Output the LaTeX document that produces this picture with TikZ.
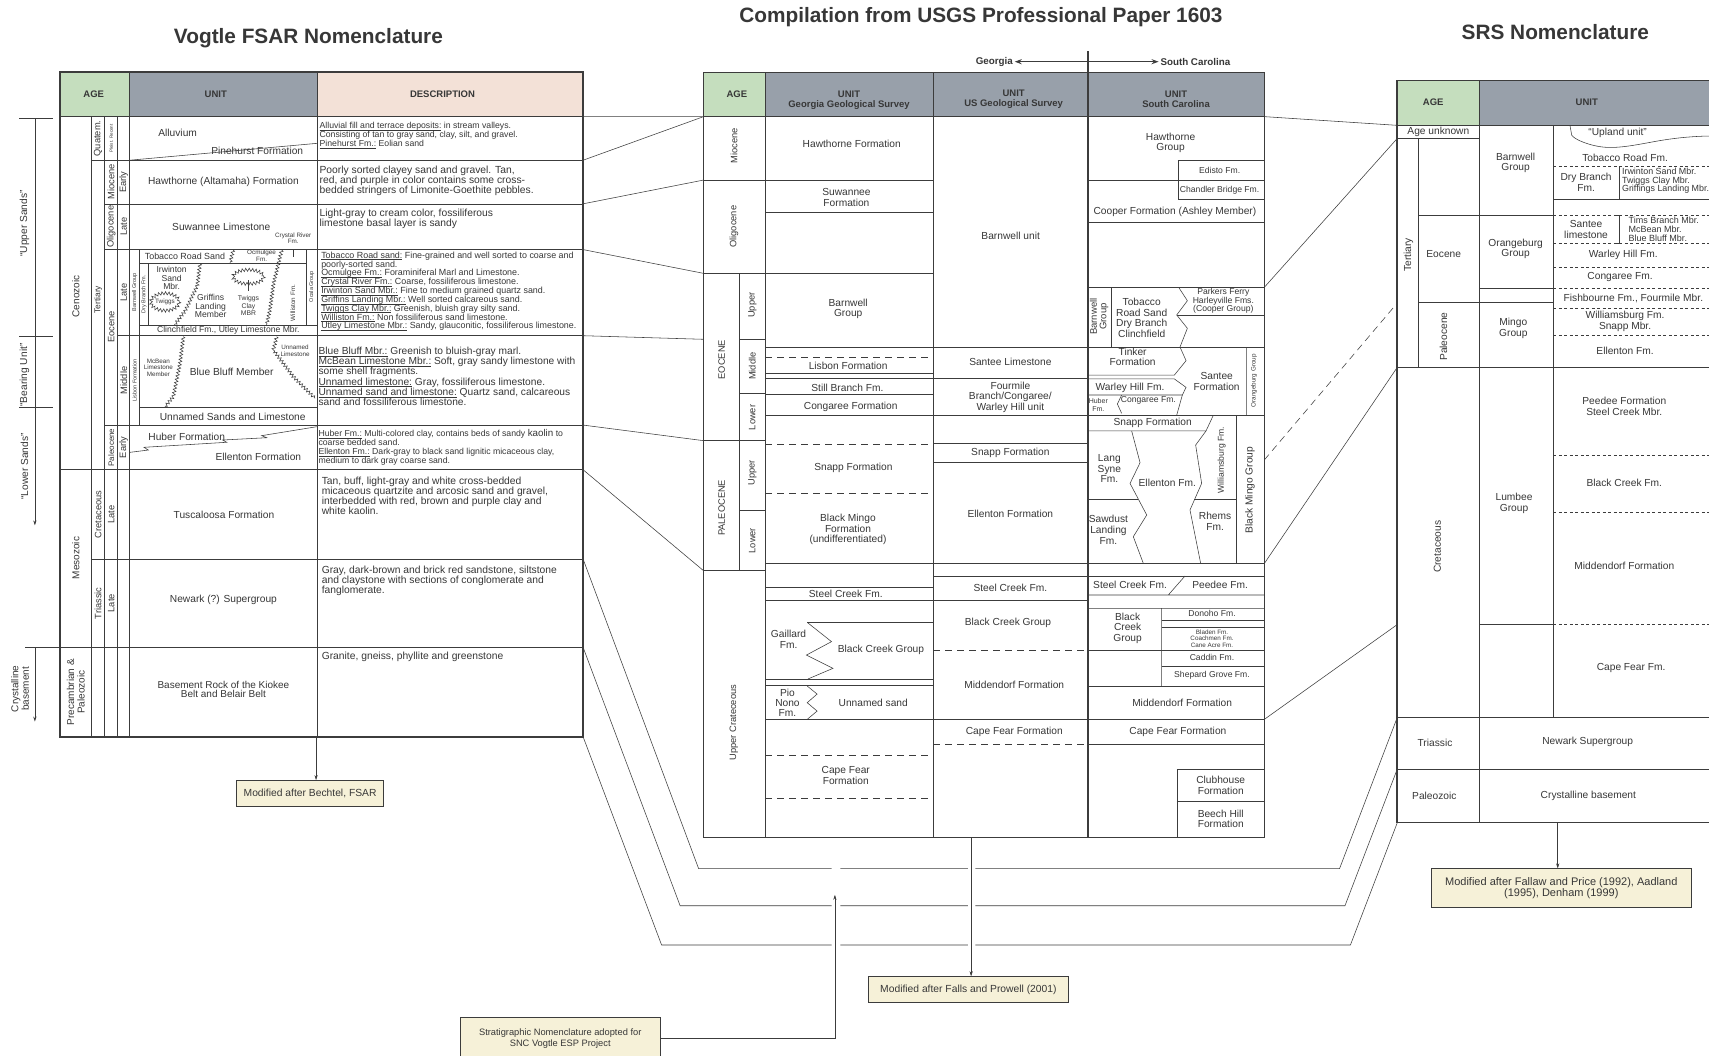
\documentclass[tikz,border=0pt]{standalone}
\usepackage{amsmath}
\usepackage{fontspec}
\setmainfont{Liberation Sans}
\usetikzlibrary{arrows.meta,decorations.pathmorphing}
\definecolor{agegreen}{RGB}{197,222,190}
\definecolor{unitgray}{RGB}{152,160,170}
\definecolor{descpeach}{RGB}{243,225,215}
\definecolor{notefill}{RGB}{246,241,216}
\definecolor{ink}{RGB}{55,55,55}
\definecolor{rule}{RGB}{60,60,60}
\newcommand{\fsz}[2]{\fontsize{#1}{#2}\selectfont\lineskiplimit=-20pt\relax}
\newcommand{\ul}[1]{\underline{\smash[b]{#1}}}
\begin{document}
\begin{tikzpicture}[x=1.0899pt,y=-1.0899pt,color=rule,line width=0.55pt,
  lab/.style={inner sep=0pt,align=center,text=ink,font=\fsz{10.2}{10.6}},
  sml/.style={lab,font=\fsz{8.6}{8.4}},
  tny/.style={lab,font=\fsz{6.3}{6.8}},
  agel/.style={lab,rotate=90,font=\fsz{9.3}{10}},
  hd/.style={lab,font=\bfseries\fsz{9.5}{10}},
  dsc/.style={lab,align=left,anchor=west},
  rt/.style={rotate=90},
  zz/.style={decorate,decoration={zigzag,segment length=3.4pt,amplitude=1.6pt}},
  dsh/.style={dash pattern=on 7pt off 5pt},
  sdsh/.style={dash pattern=on 3pt off 2.5pt},
  frame/.style={line width=1.6pt},
  arr/.style={-{Stealth[length=5pt,width=3.2pt]}},
  note/.style={draw=rule,line width=0.8pt,fill=notefill,inner sep=0pt,align=center,text=ink,font=\fsz{10.3}{11}},
  ttl/.style={inner sep=0pt,text=ink,font=\bfseries\fsz{20.8}{23}}]
\fill[white] (0,0) rectangle (1568,968);
\useasboundingbox (0,0) rectangle (1568,968);

\node[ttl] (tvog) at (283,35) {Vogtle FSAR Nomenclature};
\node[ttl] (tcomp) at (900,16) {Compilation from USGS Professional Paper 1603};
\node[ttl] (tsrs) at (1427,29) {SRS Nomenclature};

\fill[agegreen] (55,66) rectangle (119,107);
\fill[unitgray] (119,66) rectangle (291,107);
\fill[descpeach] (291,66) rectangle (535,107);
\node[hd] (lage) at (86,86.5) {AGE};
\node[hd] (lunit) at (198,86.5) {UNIT};
\node[hd] (ldesc) at (406,86.5) {DESCRIPTION};
\draw (55,107) -- (535,107);
\draw (119,66) -- (119,676) (291,66) -- (291,676);
\draw (84,107) -- (84,676) (96,107) -- (96,676) (108,107) -- (108,676);
\draw (84,147) -- (535,147) (96,187) -- (535,187) (96,229) -- (535,229);
\draw (108,308) -- (535,308) (96,390) -- (535,390) (55,431) -- (535,431);
\draw (84,513) -- (535,513) (23,594) -- (535,594);
\draw (119,147) -- (291,131.5);
\draw (127.8,229) -- (127.8,390) (127.8,241.6) -- (281.4,241.6) (136.1,241.6) -- (136.1,298.2);
\draw (281.4,229) -- (281.4,298.2) (127.8,298.2) -- (291,298.2) (127.8,373.7) -- (291,373.7);
\draw[zz] (214,229.5) -- (211,241.6);
\draw[zz] (183.5,242) -- (181,262) -- (170,285) -- (160,298.2);
\draw[zz] (258.5,229.5) -- (251,260) -- (247.7,284) -- (244.6,298.2);
\draw (269.1,229) -- (269.1,235.5);
\draw[zz] (151.4,277) ellipse [x radius=13,y radius=8];
\draw[zz] (227.9,254) ellipse [x radius=14,y radius=6.5];
\draw (227.9,257) -- (227.9,267);
\draw[zz] (168.2,308.9) -- (165.2,333.3) -- (159,363.9) -- (151.4,373.1);
\draw[zz] (253.9,308.9) -- (250.8,321.1) -- (269.1,345.6) -- (289,365.4);
\draw (119.3,415) -- (136.1,412.9) -- (132.1,410.4) -- (208,405.8) -- (204.3,403.7) -- (244.7,401.6) -- (240.1,399.7) -- (290.6,391.5);
\draw[frame] (55,66) rectangle (535,676);

\node[agel,font=\fsz{10}{10}] (lceno) at (69.5,272) {Cenozoic};
\node[agel,font=\fsz{10}{10}] (lmeso) at (69.5,512) {Mesozoic};
\node[agel,font=\fsz{10}{10.6}] (lprec) at (69.5,635) {Precambrian \&\\Paleozoic};
\node[agel] (lquat) at (90,127) {Quatem.};
\node[agel,font=\fsz{4.5}{5}] (lplei) at (102,127) {Pleist. Recent};
\node[agel,font=\fsz{8.5}{9}] (lterti) at (90,275) {Tertiary};
\node[agel] (lmio) at (102,167) {Miocene};
\node[agel] (lmioe) at (113.6,167) {Early};
\node[agel] (loli) at (102,208) {Oligocene};
\node[agel] (lolil) at (113.6,208) {Late};
\node[agel] (leoc) at (102,300) {Eocene};
\node[agel] (leocl) at (113.6,268.5) {Late};
\node[agel] (leocm) at (113.6,349) {Middle};
\node[agel,font=\fsz{8}{8}] (lpal) at (102,410.6) {Paleocene};
\node[agel] (lpale) at (113.6,410.6) {Early};
\node[agel] (lcret) at (90,472) {Cretaceous};
\node[agel] (lcretl) at (102,472) {Late};
\node[agel] (ltria) at (90,553.5) {Triassic};
\node[agel] (ltrial) at (102,553.5) {Late};

\node[lab] (lalluv) at (163,122) {Alluvium};
\node[lab] (lpine) at (236,138.5) {Pinehurst Formation};
\node[lab] (lhaw) at (205,167) {Hawthorne (Altamaha) Formation};
\node[lab] (lsuw) at (203,208) {Suwannee Limestone};
\node[tny] (lcrys) at (269,218.5) {Crystal River\\Fm.};
\node[lab,font=\fsz{8.9}{9}] (ltob) at (169.7,235.5) {Tobacco Road Sand};
\node[tny] (locm) at (240,234.5) {Ocmulgee\\Fm.};
\node[tny,rt,font=\fsz{5.5}{6}] (lbarn) at (123.5,268) {Barnwell Group};
\node[tny,rt,font=\fsz{5.5}{6}] (ldry) at (132,270) {Dry Branch Fm.};
\node[tny,rt,font=\fsz{5.5}{6}] (locala) at (286,263) {Ocala Group};
\node[tny,rt] (lwill) at (268.6,278) {Williston Fm.};
\node[sml] (lirw) at (157.5,255) {Irwinton\\Sand\\Mbr.};
\node[tny] (ltwig) at (151.4,277) {Twiggs};
\node[sml] (lgrif) at (193.3,281) {Griffins\\Landing\\Member};
\node[tny,font=\fsz{6.8}{7.4}] (ltwcl) at (227.9,280.5) {Twiggs\\Clay\\MBR};
\node[sml] (lclin) at (209.5,303) {Clinchfield Fm., Utley Limestone Mbr.};
\node[tny] (lmcb) at (145.3,337.4) {McBean\\Limestone\\Member};
\node[lab] (lblue) at (212.6,341) {Blue Bluff Member};
\node[tny] (lunl) at (270.7,321.8) {Unnamed\\Limestone};
\node[tny,rt,font=\fsz{5.5}{6}] (llis) at (123.5,349) {Lisbon Formation};
\node[lab] (luns) at (213.5,382) {Unnamed Sands and Limestone};
\node[lab] (lhub) at (171.3,400.7) {Huber Formation};
\node[lab] (lell) at (237,419.6) {Ellenton Formation};
\node[lab] (ltusc) at (205.5,472) {Tuscaloosa Formation};
\node[lab] (lnew) at (205,550) {Newark (?) Supergroup};
\node[lab,font=\fsz{10}{9.8}] (lbase) at (205,632.5) {Basement Rock of the Kiokee\\Belt and Belair Belt};

\node[dsc,font=\fsz{8.7}{8.8}] (dquat) at (293,124.3) {\ul{Alluvial fill and terrace deposits:} in stream valleys.\\Consisting of tan to gray sand, clay, silt, and gravel.\\\ul{Pinehurst Fm.:} Eolian sand};
\node[dsc,font=\fsz{10.3}{9.9}] (dmio) at (293,166) {Poorly sorted clayey sand and gravel. Tan,\\red, and purple in color contains some cross-\\bedded stringers of Limonite-Goethite pebbles.};
\node[dsc,font=\fsz{10.3}{10}] (doli) at (293,201.2) {Light-gray to cream color, fossiliferous\\limestone basal layer is sandy};
\node[dsc,font=\fsz{8.9}{8.83}] (deocl) at (294.5,267.3) {\ul{Tobacco Road sand:} Fine-grained and well sorted to coarse and\\poorly-sorted sand.\\\ul{Ocmulgee Fm.:} Foraminiferal Marl and Limestone.\\\ul{Crystal River Fm.:} Coarse, fossiliferous limestone.\\\ul{Irwinton Sand Mbr.:} Fine to medium grained quartz sand.\\\ul{Griffins Landing Mbr.:} Well sorted calcareous sand.\\\ul{Twiggs Clay Mbr.:} Greenish, bluish gray silty sand.\\\ul{Williston Fm.:} Non fossiliferous sand limestone.\\\ul{Utley Limestone Mbr.:} Sandy, glauconitic, fossiliferous limestone.};
\node[dsc,font=\fsz{10.2}{10.3}] (deocm) at (292,345.4) {\ul{Blue Bluff Mbr.:} Greenish to bluish-gray marl.\\\ul{McBean Limestone Mbr.:} Soft, gray sandy limestone with\\some shell fragments.\\\ul{Unnamed limestone:} Gray, fossiliferous limestone.\\\ul{Unnamed sand and limestone:} Quartz sand, calcareous\\sand and fossiliferous limestone.};
\node[dsc,font=\fsz{8.7}{8.9}] (dpal) at (292,410.5) {\ul{Huber Fm.:} Multi-colored clay, contains beds of sandy {\fsz{9.8}{8.9}kaolin} to\\coarse bedded sand.\\\ul{Ellenton Fm.:} Dark-gray to black sand lignitic micaceous clay,\\medium to dark gray coarse sand.};
\node[dsc,font=\fsz{10.3}{10}] (dcret) at (295,454.8) {Tan, buff, light-gray and white cross-bedded\\micaceous quartzite and arcosic sand and gravel,\\interbedded with red, brown and purple clay and\\white kaolin.};
\node[dsc,font=\fsz{10.3}{9.8}] (dtria) at (295,533) {Gray, dark-brown and brick red sandstone, siltstone\\and claystone with sections of conglomerate and\\fanglomerate.};
\node[dsc,font=\fsz{10.3}{10}] (dprec) at (295,603) {Granite, gneiss, phyllite and greenstone};

\draw (17.7,108.6) -- (49,108.6) (17.7,308.9) -- (49,308.9) (17.7,373.7) -- (49,373.7);
\draw[arr] (32,108.6) -- (32,482);
\draw[arr] (32,594) -- (32,662);
\node[lab,rt] (usands) at (22.5,205) {“Upper Sands”};
\node[lab,rt] (bunit) at (22.5,344) {“Bearing Unit”};
\node[lab,rt] (lsands) at (22.5,428) {“Lower Sands”};
\node[lab,rt,font=\fsz{10}{10.6}] (cbase) at (18.4,632) {Crystalline\\basement};

\fill[agegreen] (645.5,66.4) rectangle (702.2,107);
\fill[unitgray] (702.2,66.4) rectangle (1160,107);
\node[hd] (mage) at (676,86.5) {AGE};
\node[hd] (mgeo) at (779,91.8) {UNIT\\Georgia Geological Survey};
\node[hd] (musgs) at (930,91.1) {UNIT\\US Geological Survey};
\node[hd] (msc) at (1079,91.1) {UNIT\\South Carolina};
\draw (645.5,107) -- (1160,107);
\draw (702.2,66.4) -- (702.2,768.3) (856.2,66.4) -- (856.2,768.3);
\draw (645.5,165.2) -- (856.2,165.2) (645.5,250.8) -- (856.2,250.8) (678.3,250.8) -- (678.3,523.6);
\draw (678.3,311.3) -- (702.2,311.3) (678.3,360.9) -- (702.2,360.9) (645.5,404.3) -- (702.2,404.3);
\draw (678.3,468.5) -- (702.2,468.5) (645.5,523.6) -- (702.2,523.6);
\draw (702.2,195.1) -- (856.2,195.1) (702.2,318.5) -- (1160,318.5) (702.2,342.5) -- (856.2,342.5);
\draw (702.2,347.4) -- (998,347.4) (702.2,361.5) -- (856.2,361.5) (702.2,381) -- (1160,381);
\draw (856.2,406.5) -- (998,406.5) (856.2,424.2) -- (998,424.2) (702.2,516.9) -- (1160,516.9);
\draw (856.2,528.5) -- (1160,528.5) (702.2,539) -- (856.2,539) (702.2,551.1) -- (998,551.1);
\draw (740.6,571) -- (856.2,571) (702.2,623) -- (856.2,623) (702.2,628.8) -- (856.2,628.8) (702.2,660) -- (1160,660);
\draw[dsh] (702.2,328.2) -- (856.2,328.2) (702.2,407.4) -- (856.2,407.4) (702.2,452.6) -- (856.2,452.6);
\draw[dsh] (702.2,693.3) -- (856.2,693.3) (702.2,732.5) -- (856.2,732.5) (856.2,597) -- (998,597) (856.2,682.6) -- (998,682.6);
\draw (740.6,571) -- (762.9,588.7) -- (739.9,601) -- (764.2,613.2) -- (741.2,623);
\draw (740.6,629.4) -- (749.7,636.8) -- (740.6,644.7) -- (749.7,652.4) -- (740.6,660);
\draw (998,165.2) -- (1160,165.2) (1080.7,147.4) -- (1160,147.4) (1080.7,147.4) -- (1080.7,182.8) -- (1160,182.8);
\draw (998,204.3) -- (1160,204.3) (998,263.6) -- (1160,263.6) (1020,263.6) -- (1020,318.5) (1080,289.6) -- (1160,289.6);
\draw (1081.4,263.6) -- (1089.4,275.9) -- (1079.6,289) -- (1089.4,301.2) -- (1082.6,318.5);
\draw (1082.7,318.5) -- (1088.2,330.9) -- (1077.5,344.1) -- (998,344.1) (998,347.7) -- (1077.5,347.7) -- (1088.2,355.4) -- (1084.8,362.4) -- (998,362.4);
\draw (1084.8,362.4) -- (1079.6,381) (1029.1,362.4) -- (1025.2,370.7) -- (1029.1,379.2) (1143.8,318.5) -- (1143.8,381);
\draw (998,395.4) -- (1106.5,395.4) (1113.2,381) -- (1106.5,395.4) -- (1097,408.3) -- (1102.5,443.5) -- (1091.8,467.9) -- (1101.6,516.9);
\draw (1038.3,395.4) -- (1046,424.5) -- (1036.8,443.5) -- (1052.1,472.5) -- (1039.8,492.4) -- (1049,516.9);
\draw (998,457.8) -- (1044.4,457.8) (1095.8,457.8) -- (1134.6,457.8) (1134.6,381) -- (1134.6,516.9);
\draw (1071.9,545.9) -- (1087.2,528.5) (998,545.9) -- (1160,545.9) (998,558.2) -- (1160,558.2) (1065.8,558.2) -- (1065.8,629.4);
\draw (1065.8,569.5) -- (1160,569.5) (1065.8,575.6) -- (1160,575.6) (998,596.4) -- (1160,596.4) (1065.8,611.7) -- (1160,611.7);
\draw (998,629.4) -- (1160,629.4) (998,682.6) -- (1160,682.6) (1079.7,705.6) -- (1160,705.6) (1079.7,705.6) -- (1079.7,768.3) (1079.7,735.5) -- (1160,735.5);
\draw[frame] (645.5,66.4) rectangle (1160,768.3);
\draw[line width=1.8pt] (998,47) -- (998,768.3);
\draw[line width=1.4pt,-{Stealth[length=7pt,width=5pt]}] (998,56.6) -- (931,56.6);
\draw[line width=1.4pt,-{Stealth[length=7pt,width=5pt]}] (998,56.6) -- (1063,56.6);
\node[hd,font=\bfseries\fsz{9.8}{10},anchor=east] (mgeorgia) at (929.5,56.6) {Georgia};
\node[hd,font=\bfseries\fsz{9.8}{10},anchor=west] (mscar) at (1064.5,56.6) {South Carolina};

\node[agel] (mmio) at (673.4,134) {Miocene};
\node[agel] (moli) at (673.4,208) {Oligocene};
\node[agel] (meoc) at (662.2,330) {EOCENE};
\node[agel] (meocu) at (690.2,280) {Upper};
\node[agel] (meocm) at (690.2,336) {Middle};
\node[agel] (meocl) at (690.2,383) {Lower};
\node[agel] (mpal) at (662.2,466) {PALEOCENE};
\node[agel] (mpalu) at (690.2,434) {Upper};
\node[agel] (mpall) at (690.2,496) {Lower};
\node[agel] (mucr) at (673.4,663) {Upper Crateceous};

\node[lab] (ghaw) at (781.5,132.4) {Hawthorne Formation};
\node[lab] (gsuw) at (776.6,181.4) {Suwannee\\Formation};
\node[lab] (gbarn) at (778.2,283.4) {Barnwell\\Group};
\node[lab] (glis) at (778.2,335.8) {Lisbon Formation};
\node[lab] (gstill) at (777.5,356.3) {Still Branch Fm.};
\node[lab] (gcong) at (780.5,373.1) {Congaree Formation};
\node[lab] (gsnapp) at (783,429.7) {Snapp Formation};
\node[lab] (gbm) at (778,486) {Black Mingo\\Formation\\(undifferentiated)};
\node[lab] (gsteel) at (776,545) {Steel Creek Fm.};
\node[lab] (ggail) at (723.5,586.5) {Gaillard\\Fm.};
\node[lab] (gbcg) at (808.3,595.8) {Black Creek Group};
\node[lab,font=\fsz{10.2}{10}] (gpio) at (722.5,644.4) {Pio\\Nono\\Fm.};
\node[lab] (guns) at (801.2,644.4) {Unnamed sand};
\node[lab] (gcape) at (776,711.7) {Cape Fear\\Formation};

\node[lab] (ubarn) at (927.3,216.2) {Barnwell unit};
\node[lab] (usant) at (927,332.4) {Santee Limestone};
\node[lab] (ufour) at (927,364.4) {Fourmile\\Branch/Congaree/\\Warley Hill unit};
\node[lab] (usnapp) at (927,415.3) {Snapp Formation};
\node[lab] (uell) at (927,471) {Ellenton Formation};
\node[lab] (usteel) at (927,538.9) {Steel Creek Fm.};
\node[lab] (ubcg) at (924.8,571.9) {Black Creek Group};
\node[lab] (umidd) at (930.6,627.9) {Middendorf Formation};
\node[lab] (ucape) at (930.6,671.3) {Cape Fear Formation};

\node[lab] (shaw) at (1074,130.9) {Hawthorne\\Group};
\node[sml] (sedis) at (1119,156) {Edisto Fm.};
\node[sml] (schan) at (1119,174.3) {Chandler Bridge Fm.};
\node[lab] (scoop) at (1078,194.2) {Cooper Formation (Ashley Member)};
\node[lab,rt,font=\fsz{9.5}{9.5}] (sbarn) at (1008.4,290.5) {Barnwell\\Group};
\node[lab] (stob) at (1047.5,291.8) {Tobacco\\Road Sand\\Dry Branch\\Clinchfield};
\node[sml] (spark) at (1122.4,276.2) {Parkers Ferry\\Harleyville Fms.\\(Cooper Group)};
\node[lab] (stink) at (1039.2,327.3) {Tinker\\Formation};
\node[lab] (swarl) at (1036.8,355.4) {Warley Hill Fm.};
\node[tny,font=\fsz{7}{7.6}] (shub) at (1007.7,371.6) {Huber\\Fm.};
\node[sml] (scong) at (1053.6,367.6) {Congaree Fm.};
\node[lab] (ssant) at (1116.3,350.2) {Santee\\Formation};
\node[tny,rt] (sorang) at (1150.6,349.3) {Orangeburg Group};
\node[lab] (ssnapp) at (1057.6,387.8) {Snapp Formation};
\node[sml,rt] (swill) at (1120.9,422) {Williamsburg Fm.};
\node[lab,rt] (sbmg) at (1146.9,449.6) {Black Mingo Group};
\node[lab] (slang) at (1017.8,430) {Lang\\Syne\\Fm.};
\node[lab] (sell) at (1071,442.6) {Ellenton Fm.};
\node[lab] (ssaw) at (1017,486) {Sawdust\\Landing\\Fm.};
\node[lab] (srhem) at (1114.8,478.3) {Rhems\\Fm.};
\node[lab] (ssteel) at (1036.8,536.7) {Steel Creek Fm.};
\node[lab] (speed) at (1119.4,536.7) {Peedee Fm.};
\node[lab] (sbcg) at (1034.6,576.4) {Black\\Creek\\Group};
\node[sml] (sdon) at (1112,562.7) {Donoho Fm.};
\node[tny,font=\fsz{6.3}{6.3}] (sblad) at (1112,585.9) {Bladen Fm.\\Coachmen Fm.\\Cane Acre Fm.};
\node[sml] (scad) at (1112,603.4) {Caddin Fm.};
\node[sml] (sshep) at (1112,620) {Shepard Grove Fm.};
\node[lab] (smidd) at (1084.6,644.4) {Middendorf Formation};
\node[lab] (scape) at (1080.7,671.3) {Cape Fear Formation};
\node[lab] (sclub) at (1120,720.6) {Clubhouse\\Formation};
\node[lab] (sbeech) at (1120,751.3) {Beech Hill\\Formation};

\fill[agegreen] (1282,74) rectangle (1357,114.7);
\fill[unitgray] (1357,74) rectangle (1568,114.7);
\node[hd] (rage) at (1315,94.2) {AGE};
\node[hd] (runit) at (1455.8,94.2) {UNIT};
\draw (1282,114.7) -- (1568,114.7) (1357,74) -- (1357,754.8) (1282,126.9) -- (1357,126.9);
\draw (1301.3,126.9) -- (1301.3,337) (1301.3,197.3) -- (1425.2,197.3) (1301.3,277.4) -- (1425.2,277.4);
\draw (1357,264.5) -- (1425.2,264.5) (1282,337) -- (1568,337) (1425.2,114.7) -- (1425.2,658.2);
\draw (1357,572.8) -- (1425.2,572.8) (1282,658.2) -- (1568,658.2) (1282,705.6) -- (1568,705.6);
\draw (1425.2,182.9) -- (1568,182.9) (1485.7,152.3) -- (1485.7,182.9) (1483.3,197.3) -- (1485.7,197.3) -- (1485.7,223.3) -- (1483.3,223.3);
\draw[sdsh] (1425.2,152.3) -- (1568,152.3) (1425.2,197.3) -- (1568,197.3) (1425.2,223.3) -- (1568,223.3) (1425.2,245.3) -- (1568,245.3);
\draw[sdsh] (1425.2,264.5) -- (1568,264.5) (1425.2,282.9) -- (1568,282.9) (1425.2,307.4) -- (1568,307.4);
\draw[sdsh] (1425.2,417.5) -- (1568,417.5) (1425.2,470.4) -- (1568,470.4) (1425.2,572.8) -- (1568,572.8);
\draw (1440.5,115.3) -- (1442,123.9) .. controls (1444,128) and (1460,134.5) .. (1474.2,135.2) .. controls (1490,136) and (1510,131) .. (1526.1,128.5) .. controls (1542,126) and (1556,125) .. (1568,124.8);
\draw[frame] (1568,74) -- (1282,74) -- (1282,754.8) -- (1568,754.8);

\node[lab] (runk) at (1319.7,121.4) {Age unknown};
\node[lab,rt] (rterti) at (1292.2,234) {Tertiary};
\node[lab] (reoc) at (1324.6,233.5) {Eocene};
\node[lab,rt] (rpal) at (1324.3,308.9) {Paleocene};
\node[lab] (rbarn) at (1390.6,149.6) {Barnwell\\Group};
\node[lab] (rorang) at (1390.6,228.4) {Orangeburg\\Group};
\node[lab] (rmingo) at (1388.5,301.5) {Mingo\\Group};
\node[lab] (rlumb) at (1389.1,461.8) {Lumbee\\Group};
\node[lab,rt] (rcret) at (1318.8,501.6) {Cretaceous};
\node[lab] (rtria) at (1316.6,681.1) {Triassic};
\node[lab] (rnew) at (1456.7,681.1) {Newark Supergroup};
\node[lab] (rpaleo) at (1316,730.3) {Paleozoic};
\node[lab] (rcrys) at (1457.3,730) {Crystalline basement};
\node[lab] (rupl) at (1484.2,121.7) {“Upland unit”};
\node[lab] (rtob) at (1491,144.7) {Tobacco Road Fm.};
\node[lab] (rdry) at (1455.2,167) {Dry Branch\\Fm.};
\node[dsc,font=\fsz{8.9}{8.6}] (rirw) at (1488,166) {Irwinton Sand Mbr.\\Twiggs Clay Mbr.\\Griffings Landing Mbr.};
\node[lab] (rsant) at (1455.2,210.4) {Santee\\limestone};
\node[dsc,font=\fsz{9}{8.6}] (rtims) at (1494,210.3) {Tims Branch Mbr.\\McBean Mbr.\\Blue Bluff Mbr.};
\node[lab] (rwarl) at (1489.4,234) {Warley Hill Fm.};
\node[lab] (rcong) at (1486.4,253.8) {Congaree Fm.};
\node[lab] (rfish) at (1498.6,273.7) {Fishbourne Fm., Fourmile Mbr.};
\node[lab] (rwill) at (1491,294.8) {Williamsburg Fm.\\Snapp Mbr.};
\node[lab] (rell) at (1491,321.8) {Ellenton Fm.};
\node[lab] (rpeed) at (1490.3,372.7) {Peedee Formation\\Steel Creek Mbr.};
\node[lab] (rbcf) at (1490.3,442.6) {Black Creek Fm.};
\node[lab] (rmidd) at (1490.3,519.6) {Middendorf Formation};
\node[lab] (rcape) at (1496.5,613.2) {Cape Fear Fm.};

\draw (535,107) -- (645.5,107) (535,147) -- (645.5,107) (535,187) -- (645.5,165.2) (535,229) -- (645.5,250.8);
\draw (535,308) -- (645.5,311.3) (535,390) -- (645.5,404.3) (535,431) -- (645.5,523.6);
\draw (1160,107) -- (1282,115) (1160,263.6) -- (1282,127) (1160,517) -- (1282,337) (1160,660) -- (1282,573);
\draw[dsh] (1160,422) -- (1282,278);
\draw (535,513) -- (641,797) -- (763,797) (771,797) -- (888,797) (895,797) -- (1229,797) -- (1282,658.2);
\draw (535,594) -- (624,831) -- (763,831) (771,831) -- (888,831) (895,831) -- (1234,831) -- (1282,705.6);
\draw (535,676) -- (607,867) -- (763,867) (771,867) -- (888,867) (895,867) -- (1239,867) -- (1282,754.8);

\node[note,minimum width=147pt,minimum height=26pt] (bechtel) at (284.5,728) {Modified after Bechtel, FSAR};
\node[note,minimum width=199.5pt,minimum height=26pt] (falls) at (888.5,908) {Modified after Falls and Prowell (2001)};
\node[note,font=\fsz{9.3}{10.8},minimum width=200.5pt,minimum height=42pt] (snc) at (514,953) {Stratigraphic Nomenclature adopted for\\SNC Vogtle ESP Project};
\node[note,font=\fsz{11}{11},minimum width=260.5pt,minimum height=39pt] (fallaw) at (1432.5,815) {Modified after Fallaw and Price (1992), Aadland\\(1995), Denham (1999)};
\coordinate (lbot) at (290,676);
\coordinate (mbot) at (891,768.3);
\coordinate (rbot) at (1429.2,754.8);
\coordinate (sncup) at (766,821);
\draw[arr] (lbot) -- (lbot |- bechtel.north);
\draw[arr] (mbot) -- (mbot |- falls.north);
\draw[arr] (rbot) -- (rbot |- fallaw.north);
\draw[arr] (snc.east) -| (sncup);
\end{tikzpicture}
\end{document}
